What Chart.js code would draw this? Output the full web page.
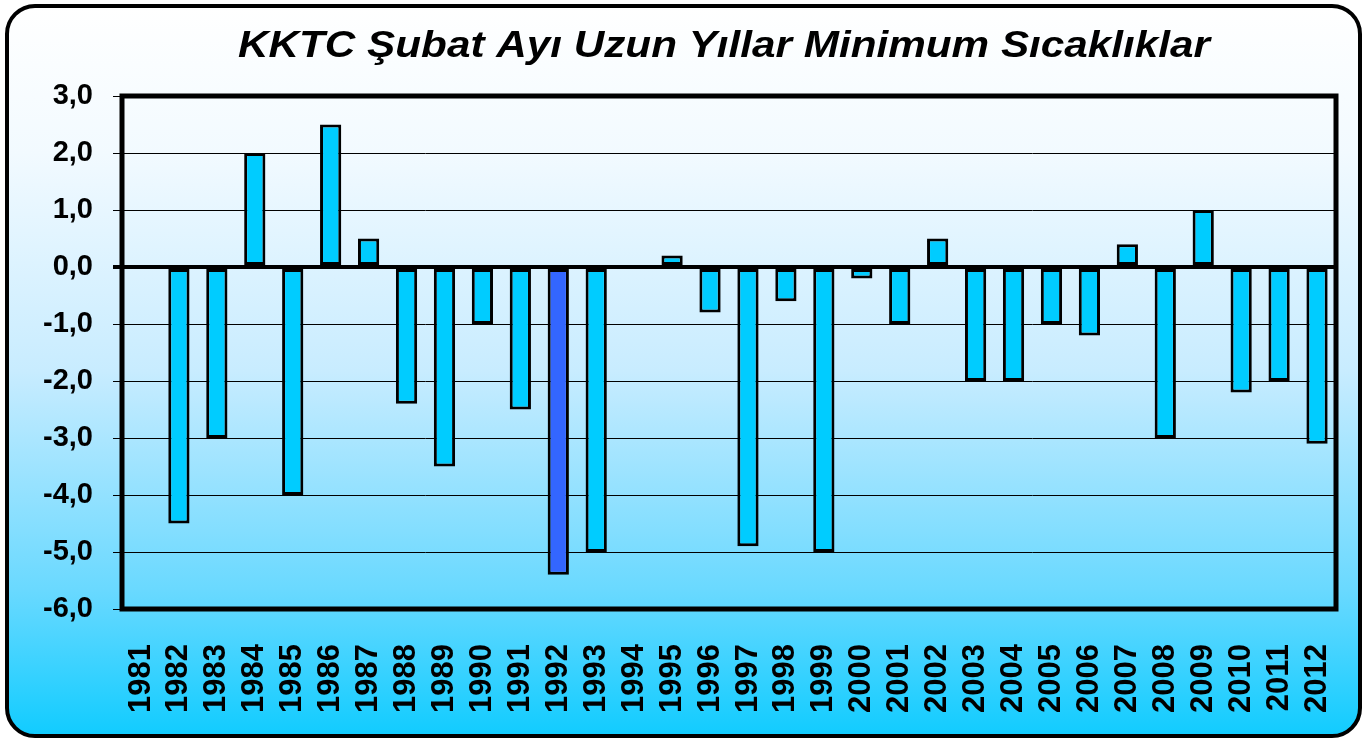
<!DOCTYPE html>
<html>
<head>
<meta charset="utf-8">
<script src="https://cdn.jsdelivr.net/npm/chart.js@4.4.0/dist/chart.umd.min.js"></script>
<style>
  html, body { margin: 0; padding: 0; background: #fff; }
  #frame {
    position: absolute; left: 5px; top: 4px; width: 1349px; height: 726px;
    border: 4px solid #000; border-radius: 30px;
    background: linear-gradient(to bottom, #ffffff 0%, #f2faff 20%, #c8ecff 50%, #6ad9ff 80%, #12ccff 100%);
  }
  #wrap { position: absolute; left: 0; top: 0; width: 1370px; height: 740px; }
</style>
</head>
<body>
<div id="frame"></div>
<div id="wrap"><canvas id="tempChart" width="1370" height="740"></canvas></div>
<script>
const years = ['1981','1982','1983','1984','1985','1986','1987','1988','1989','1990',
  '1991','1992','1993','1994','1995','1996','1997','1998','1999','2000',
  '2001','2002','2003','2004','2005','2006','2007','2008','2009','2010','2011','2012'];
const minTemps = [0, -4.5, -3.0, 2.0, -4.0, 2.5, 0.5, -2.4, -3.5, -1.0,
  -2.5, -5.4, -5.0, 0, 0.2, -0.8, -4.9, -0.6, -5.0, -0.2,
  -1.0, 0.5, -2.0, -2.0, -1.0, -1.2, 0.4, -3.0, 1.0, -2.2, -2.0, -3.1];
const highlightYear = '1992';
const chartTitle = 'KKTC Şubat Ayı Uzun Yıllar Minimum Sıcaklıklar';

const barColors = years.map(y => y === highlightYear ? '#3366ff' : '#00ccff');

// title + thick frame around the plot area
const framePlugin = {
    id: 'framePlugin',
    afterDraw(chart) {
        const ctx = chart.ctx;
        const a = chart.chartArea;
        ctx.save();
        ctx.strokeStyle = '#000';
        ctx.lineWidth = 5;
        ctx.strokeRect(a.left, a.top, a.right - a.left, a.bottom - a.top);
        ctx.restore();

        // the original title is a bit stretched sideways
        ctx.save();
        ctx.fillStyle = '#000';
        ctx.font = 'italic bold 37px "Liberation Sans", Arial, sans-serif';
        ctx.textAlign = 'center';
        ctx.textBaseline = 'alphabetic';
        const w = ctx.measureText(chartTitle).width;
        const sx = 972 / w;
        ctx.translate(724, 57);
        ctx.scale(sx, 1);
        ctx.fillText(chartTitle, 0, 0);
        ctx.restore();
    }
};

new Chart(document.getElementById('tempChart'), {
    type: 'bar',
    data: {
        labels: years,
        datasets: [{
            data: minTemps,
            backgroundColor: barColors,
            borderColor: '#000',
            borderWidth: 3,
            borderSkipped: false,
            barPercentage: 0.56,
            categoryPercentage: 1.0
        }]
    },
    options: {
        responsive: false,
        animation: false,
        layout: { padding: { left: 22, right: 34, top: 96, bottom: 0 } },
        plugins: {
            legend: { display: false },
            tooltip: { enabled: false }
        },
        scales: {
            x: {
                grid: { display: false },
                border: { display: false },
                ticks: {
                    minRotation: 90,
                    maxRotation: 90,
                    autoSkip: false,
                    padding: 27,
                    color: '#000',
                    font: { family: '"Liberation Sans", Arial, sans-serif', size: 31, weight: 'bold' }
                },
                afterFit: s => {
                    s.height = 131;
                    s.paddingLeft = 0;
                    s.paddingRight = 0;
                }
            },
            y: {
                min: -6,
                max: 3,
                border: { display: false },
                grid: {
                    color: '#000',
                    lineWidth: c => (c.tick && c.tick.value === 0 ? 4 : 1),
                    tickLength: 9
                },
                ticks: {
                    stepSize: 1,
                    padding: 20,
                    color: '#000',
                    font: { family: '"Liberation Sans", Arial, sans-serif', size: 29, weight: 'bold' },
                    callback: v => v.toFixed(1).replace('.', ',')
                },
                afterFit: s => { s.width = 100; }
            }
        }
    },
    plugins: [framePlugin]
});
</script>
</body>
</html>
